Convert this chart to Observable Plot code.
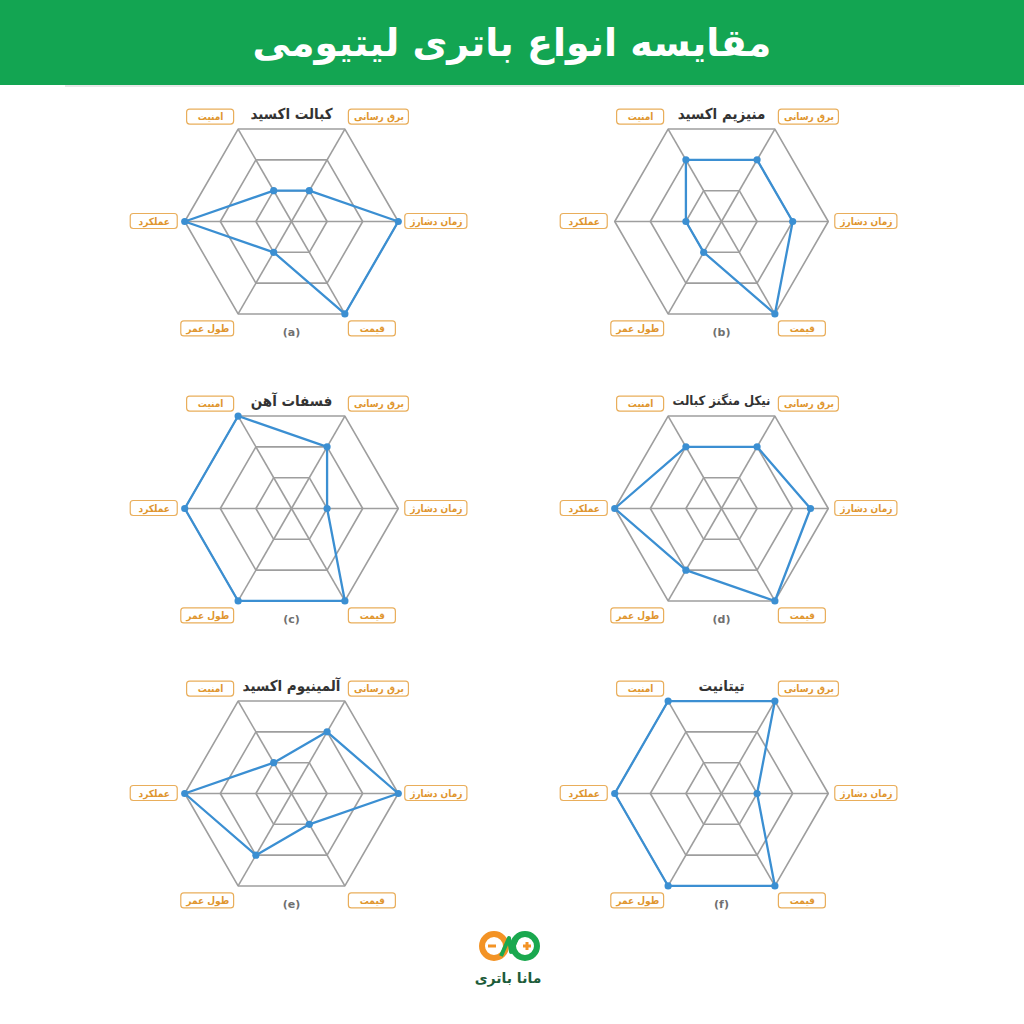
<!DOCTYPE html>
<html><head><meta charset="utf-8">
<script src="https://cdn.jsdelivr.net/npm/d3@7"></script>
<script src="https://cdn.jsdelivr.net/npm/@observablehq/plot@0.6"></script>
<style>
body{margin:0;background:#fff;width:1024px;height:1024px;position:relative;overflow:hidden;font-family:'DejaVu Sans',sans-serif}
#header{position:absolute;left:0;top:0;width:1024px;height:85px;background:#13a552;color:#fff;font-weight:bold;font-size:38px;display:flex;align-items:center;justify-content:center;direction:rtl}
#rule{position:absolute;left:65px;top:85px;width:895px;height:2px;background:#e8e8e8}
.chart{position:absolute;width:420px;height:260px}
#brand{position:absolute;left:458px;top:970px;width:100px;text-align:center;font-weight:bold;font-size:14px;color:#1d5c3a;direction:rtl}
</style></head><body>
<div id="header">مقایسه انواع باتری لیتیومی</div>
<div id="rule"></div>
<svg id="logo" width="90" height="50" viewBox="0 0 90 50" style="position:absolute;left:465px;top:922px">
  <circle cx="29" cy="24" r="12" fill="none" stroke="#f39325" stroke-width="6"/>
  <circle cx="60" cy="24" r="12" fill="none" stroke="#1aa84f" stroke-width="6"/>
  <path d="M36 34 L44 16 L46 30 L54 12" fill="none" stroke="#1aa84f" stroke-width="4" stroke-linejoin="round"/>
  <line x1="23" y1="24" x2="31" y2="24" stroke="#f39325" stroke-width="3"/>
  <line x1="58" y1="24" x2="66" y2="24" stroke="#f39325" stroke-width="3"/>
  <line x1="62" y1="20" x2="62" y2="28" stroke="#f39325" stroke-width="3"/>
</svg>
<div id="brand">مانا باتری</div>
<script>
// ---- data ----
const axes = ["زمان دشارژ", "برق رسانی", "امنیت", "عملکرد", "طول عمر", "قیمت"];
const chemistries = ["کبالت اکسید", "منیزیم اکسید", "فسفات آهن", "نیکل منگنز کبالت", "آلمینیوم اکسید", "تیتانیت"];
const panelLetters = ["(a)", "(b)", "(c)", "(d)", "(e)", "(f)"];
const levels = [1, 2, 3];
const cobaltOxide    = [3, 1, 1, 3, 1, 3];
const manganeseOxide = [2, 2, 2, 1, 1, 3];
const ironPhosphate  = [1, 2, 3, 3, 3, 3];
const nmc            = [2.5, 2, 2, 3, 2, 3];
const aluminiumOxide = [3, 2, 1, 3, 2, 1];
const titanate       = [1, 3, 3, 3, 3, 3];
const series = [cobaltOxide, manganeseOxide, ironPhosphate, nmc, aluminiumOxide, titanate];

// ---- layout ----
const W = 420, H = 260, K = 35.59;
const colX = [291, 721], rowY = [221, 508, 793];
const ang = i => i * Math.PI / 3;
const condensed = "'DejaVu Sans Condensed', 'DejaVu Sans', sans-serif";
const ctx = document.createElement("canvas").getContext("2d");
const textW = (t, font) => { ctx.font = font; return ctx.measureText(t).width; };

function radar(title, letter, vals) {
  const rings = levels.flatMap(l => axes.map((a, i) => ({level: l, x: l * Math.cos(ang(i)), y: l * Math.sin(ang(i))})));
  const spokes = axes.map((a, i) => ({x2: 3 * Math.cos(ang(i)), y2: 3 * Math.sin(ang(i))}));
  const pts = axes.map((a, i) => ({axis: a, x: vals[i] * Math.cos(ang(i)), y: vals[i] * Math.sin(ang(i))}));
  const labels = axes.map((a, i) => {
    const c = Math.cos(ang(i)), s = Math.sin(ang(i));
    const w = Math.max(47, textW(a, "bold 10px " + condensed) + 10);
    const edge = Math.abs(s) < 0.1 ? 7 : 4;
    const x = 3 * c + Math.sign(c) * (edge + w / 2) / K;
    const y = 3 * s + (s > 0.1 ? 12 : s < -0.1 ? -15 : 0) / K;
    return {axis: a, x, y, x1: x - w / 2 / K, x2: x + w / 2 / K, y1: y - 7.5 / K, y2: y + 7.5 / K};
  });
  const tw = textW(title, "bold 15px " + condensed);
  const titleSize = Math.min(15, 15 * 98 / tw);
  return Plot.plot({
    width: W, height: H, margin: 0,
    x: {domain: [-W / 2 / K, W / 2 / K], axis: null},
    y: {domain: [-H / 2 / K, H / 2 / K], axis: null},
    style: {background: "transparent", overflow: "visible", fontFamily: "'DejaVu Sans', sans-serif"},
    marks: [
      Plot.link(spokes, {x1: 0, y1: 0, x2: "x2", y2: "y2", stroke: "#9e9e9e", strokeWidth: 1.6}),
      Plot.line(rings, {x: "x", y: "y", z: "level", curve: "linear-closed", stroke: "#9e9e9e", strokeWidth: 1.6}),
      Plot.line(pts, {x: "x", y: "y", curve: "linear-closed", stroke: "#3b8fd2", strokeWidth: 2.3}),
      Plot.dot(pts, {x: "x", y: "y", r: 3.6, fill: "#3b8fd2"}),
      Plot.rect(labels, {x1: "x1", x2: "x2", y1: "y1", y2: "y2", fill: "white", stroke: "#e9ae5b", strokeWidth: 1.2, rx: 3}),
      Plot.text(labels, {x: "x", y: "y", text: "axis", fill: "#e0962f", fontSize: 10, fontWeight: "bold", fontFamily: condensed}),
      Plot.text([title], {text: d => d, frameAnchor: "top", dy: 17, fontSize: titleSize, fontWeight: "bold", fill: "#333", fontFamily: condensed}),
      Plot.text([letter], {text: d => d, frameAnchor: "bottom", dy: -16, fontSize: 11, fontWeight: "bold", fill: "#707070"})
    ]
  });
}

chemistries.forEach((name, k) => {
  const div = document.createElement("div");
  div.className = "chart";
  div.style.left = (colX[k % 2] - W / 2) + "px";
  div.style.top = (rowY[Math.floor(k / 2)] - H / 2) + "px";
  div.appendChild(radar(name, panelLetters[k], series[k]));
  document.body.appendChild(div);
});
</script>
</body></html>
